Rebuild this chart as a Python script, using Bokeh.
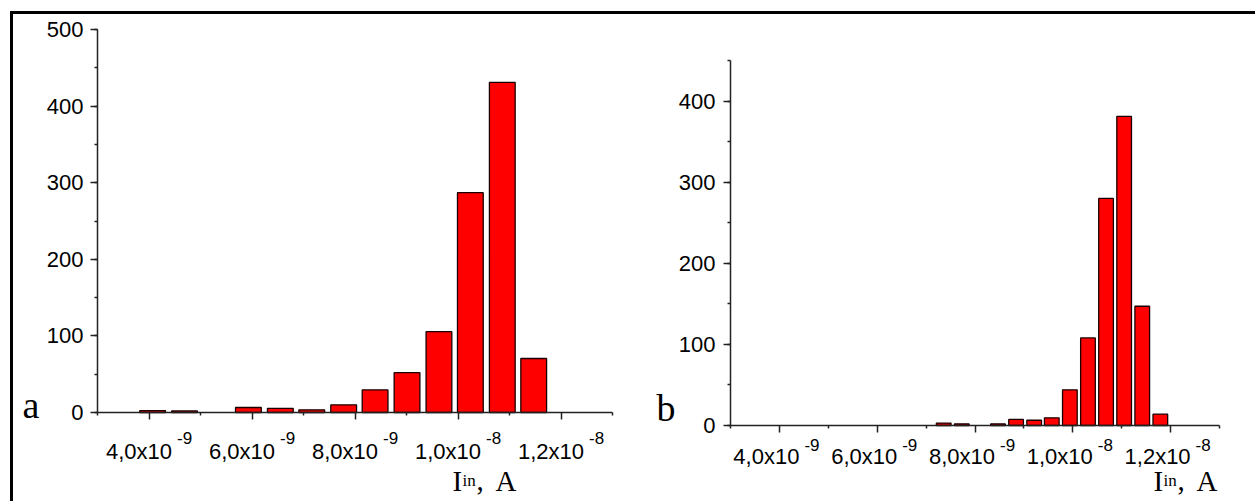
from bokeh.plotting import figure
from bokeh.models import (Label, SingleIntervalTicker, FixedTicker, Range1d,
                          LinearAxis)
from bokeh.embed import file_html
from bokeh.resources import INLINE

# ---------------- data ----------------
# panel a: histogram bin centres (A) and counts
a_centers = [4.07e-9, 4.69e-9, 5.93e-9, 6.55e-9, 7.16e-9, 7.78e-9,
             8.39e-9, 9.01e-9, 9.63e-9, 10.24e-9, 10.86e-9, 11.47e-9]
a_counts = [2.5, 2, 6.5, 5.5, 3.5, 10, 29.5, 52, 105.5, 287, 431, 70.5]
a_bin_width = 0.50e-9

# panel b
b_centers = [7.36e-9, 7.73e-9, 8.47e-9, 8.84e-9, 9.21e-9, 9.57e-9,
             9.94e-9, 10.31e-9, 10.68e-9, 11.05e-9, 11.42e-9, 11.79e-9]
b_counts = [3, 2, 2, 7.5, 6.5, 9.5, 44, 108, 280, 381, 147, 14]
b_bin_width = 0.30e-9

x_tick_values = [4e-9, 6e-9, 8e-9, 1.0e-8, 1.2e-8]
x_minor_values = [3e-9, 5e-9, 7e-9, 9e-9, 1.1e-8, 1.3e-8]
x_tick_mantissa = ["4,0x10", "6,0x10", "8,0x10", "1,0x10", "1,2x10"]
x_tick_exponent = ["-9", "-9", "-9", "-8", "-8"]

x_min, x_max = 3e-9, 1.3e-8
a_y_max = 500
b_y_max = 450

# ---------------- layout (page pixels) ----------------
W, H = 1255, 501      # canvas size
OX, OY = 0, 0         # canvas origin on the page

SANS = "Liberation Sans"
SERIF = "Liberation Serif"
BAR_FILL = "#FF0000"
AXIS_COLOR = "#222222"


def cx(ix):          # page x -> canvas data x
    return ix - OX


def cy(iy):          # page y -> canvas data y (upwards)
    return OY + H - iy


p = figure(width=W, height=H, output_backend="svg", toolbar_location=None,
           x_range=Range1d(0, W), y_range=Range1d(0, H),
           x_axis_location=None, y_axis_location=None,
           min_border=0, min_border_left=0, min_border_right=0,
           min_border_top=0, min_border_bottom=0)
p.outline_line_color = None
p.grid.visible = False
p.background_fill_color = "white"
p.border_fill_color = "white"

# outer frame (left and top lines)
p.segment(x0=[cx(11), cx(9.5)], y0=[cy(10.5), cy(12)],
          x1=[cx(11), cx(1257)], y1=[cy(510), cy(12)],
          line_color="black", line_width=3)


def panel(name, centers, counts, bw, ymax, fx0, fx1, fy_top, fy0,
          main_dx, main_base, sup_dx, sup_base, letter, letter_x,
          letter_base, xl_x, std):
    sx = (fx1 - fx0) / (x_max - x_min)        # px per A
    sy = (fy0 - fy_top) / ymax                # px per count
    xs = x_min - (fx0 - OX) / sx
    ys = -(OY + H - fy0) / sy
    xr, yr = name + "x", name + "y"
    p.extra_x_ranges[xr] = Range1d(xs, xs + W / sx)
    p.extra_y_ranges[yr] = Range1d(ys, ys + H / sy)

    p.vbar(x=centers, top=counts, width=bw, bottom=0,
           x_range_name=xr, y_range_name=yr,
           fill_color=BAR_FILL, line_color="#1a0000", line_width=1.3)

    # x axis: line + minor ticks
    ax1 = LinearAxis(x_range_name=xr, y_range_name=yr, fixed_location=0,
                     bounds=(x_min, x_max),
                     ticker=FixedTicker(ticks=[], minor_ticks=x_minor_values))
    ax1.axis_line_color = AXIS_COLOR
    ax1.axis_line_width = 1.5
    ax1.minor_tick_line_color = AXIS_COLOR
    ax1.minor_tick_line_width = 1.5
    ax1.minor_tick_in = 0
    ax1.minor_tick_out = 3
    p.add_layout(ax1, "below")
    # x axis: major tick marks
    ax2 = LinearAxis(x_range_name=xr, y_range_name=yr, fixed_location=0,
                     bounds=(x_min, x_max),
                     ticker=FixedTicker(ticks=[], minor_ticks=x_tick_values))
    ax2.axis_line_color = None
    ax2.minor_tick_line_color = AXIS_COLOR
    ax2.minor_tick_line_width = 1.5
    ax2.minor_tick_in = 0
    ax2.minor_tick_out = 7
    p.add_layout(ax2, "below")

    # y axis
    ay = LinearAxis(x_range_name=xr, y_range_name=yr, fixed_location=x_min,
                    bounds=(0, ymax),
                    ticker=SingleIntervalTicker(interval=100,
                                                num_minor_ticks=2))
    ay.major_label_text_font = SANS
    ay.major_label_text_font_size = "22px"
    ay.major_label_text_color = "black"
    ay.major_label_standoff = std
    ay.axis_line_color = AXIS_COLOR
    ay.axis_line_width = 1.5
    ay.major_tick_line_color = AXIS_COLOR
    ay.minor_tick_line_color = AXIS_COLOR
    ay.major_tick_line_width = 1.5
    ay.minor_tick_line_width = 1.5
    ay.major_tick_in = 0
    ay.major_tick_out = 7
    ay.minor_tick_in = 0
    ay.minor_tick_out = 3
    p.add_layout(ay, "left")

    # x tick labels with superscript exponents
    for xv, m, e in zip(x_tick_values, x_tick_mantissa, x_tick_exponent):
        p.add_layout(Label(x=xv, y=cy(main_base - 4), x_offset=main_dx,
                           x_range_name=xr, text=m, text_font=SANS,
                           text_font_size="22px", text_align="right",
                           text_baseline="alphabetic", text_color="black"))
        p.add_layout(Label(x=xv, y=cy(sup_base - 6), x_offset=sup_dx,
                           x_range_name=xr, text=e, text_font=SANS,
                           text_font_size="17px", text_align="left",
                           text_baseline="alphabetic", text_color="black"))

    # panel letter
    p.add_layout(Label(x=cx(letter_x), y=cy(letter_base - 13), text=letter,
                       text_font=SERIF, text_font_size="38px",
                       text_align="left", text_baseline="alphabetic",
                       text_color="black"))

    # axis title  I_in, A
    yb = cy(492 - 12)
    for dx, t, fs in [(0, "I", "29px"), (10, "in", "17px"),
                      (24, ",", "29px"), (43, "A", "29px")]:
        p.add_layout(Label(x=cx(xl_x + dx), y=yb, text=t, text_font=SERIF,
                           text_font_size=fs, text_align="left",
                           text_baseline="alphabetic", text_color="black"))


panel("a", a_centers, a_counts, a_bin_width, a_y_max,
      fx0=97, fx1=612, fy_top=29, fy0=412,
      main_dx=23, main_base=455, sup_dx=28, sup_base=443,
      letter="a", letter_x=22, letter_base=417, xl_x=452, std=7)

panel("b", b_centers, b_counts, b_bin_width, b_y_max,
      fx0=730, fx1=1219, fy_top=60, fy0=425,
      main_dx=20, main_base=460, sup_dx=25, sup_base=450,
      letter="b", letter_x=656, letter_base=420, xl_x=1153, std=8)

open("out.html", "w").write(file_html(p, INLINE))
